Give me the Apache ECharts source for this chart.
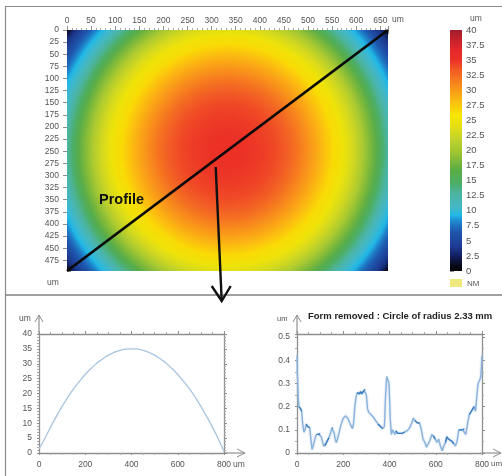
<!DOCTYPE html>
<html><head><meta charset="utf-8">
<style>html,body{margin:0;padding:0;background:#fff}#c{width:502px;height:476px;filter:blur(0.45px)}</style>
<script src="https://cdn.jsdelivr.net/npm/echarts@6/dist/echarts.min.js"></script>
</head><body><div id="c"></div>
<script>
// Height map: radial profile around the dome summit (um)
const summitX = 333, summitY = 248;
const ringRadius = [0,20,40,60,80,100,120,140,160,180,200,220,240,260,280,300,310,320,330,340,350,360,370,380,390,400,405,410,415,420,445];
const ringHeight = [35,35,34.9,34.7,34.4,34,33.3,32.3,31,29.6,28.1,26.5,25,23,20.5,17.8,16.2,14.7,13.2,11.6,10.2,9.2,7.9,6.6,5.2,3.8,3,1.8,0.6,0,0];
// Colour scale
const scaleLevels = [0,1,2.3,4,6.7,8.7,9.2,10.5,12.9,14.5,16.7,18.7,19.7,21.3,23.7,25.8,28,30.8,33.6,35,37,39,40];
const scaleColors = ['#050505','#070a1c','#101c58','#1c3a90','#1e5ab0','#1e98d8','#20b8e6','#45b8c8','#4cb4a0','#4cae68','#5aad44','#88bc38','#a0c430','#b8d030','#e0dc18','#f8e800','#fcc010','#f88c1c','#f15526','#ec3026','#e2262a','#b81f2c','#a01c30'];
// Section line on the map (um)
const sectionX = [0,666];
const sectionY = [497,0];
// Profile chart
const profileX = [0,25,50,75,100,125,150,175,200,225,250,275,300,325,350,375,400,425,450,475,500,525,550,575,600,625,650,675,700,725,750,775,800];
const profileZ = [1.5,4.8,8.7,12.3,15.7,18.8,21.6,24.1,26.4,28.4,30.2,31.6,32.9,33.8,34.5,34.9,35,34.9,34.5,33.8,32.9,31.6,30.2,28.4,26.4,24.1,21.6,18.8,15.7,12.3,8.7,4.8,0.5];
// Roughness chart
const roughX = [0,2,5,8,12,16,20,25,30,35,40,45,50,55,60,65,70,75,80,85,90,95,100,105,110,115,120,125,130,135,140,145,150,155,160,165,170,175,180,190,200,210,220,230,240,245,250,255,260,265,270,275,280,285,290,295,300,305,310,320,330,340,350,360,370,378,383,388,393,398,403,408,413,418,423,428,435,445,455,465,475,485,495,503,510,520,530,538,545,553,560,568,575,583,590,598,605,613,620,628,635,642,648,655,662,670,678,685,692,700,708,716,724,730,738,745,752,760,766,772,778,783,790,795,800];
const roughZ = [0.42,0.33,0.25,0.2,0.205,0.19,0.18,0.12,0.09,0.1,0.125,0.115,0.12,0.11,0.06,0.015,0.03,0.05,0.07,0.08,0.075,0.08,0.085,0.07,0.05,0.03,0.03,0.04,0.05,0.06,0.065,0.085,0.105,0.11,0.09,0.06,0.045,0.06,0.08,0.12,0.15,0.16,0.15,0.125,0.105,0.13,0.2,0.24,0.26,0.26,0.255,0.265,0.255,0.26,0.27,0.275,0.25,0.19,0.175,0.165,0.155,0.14,0.125,0.115,0.105,0.115,0.25,0.33,0.335,0.3,0.15,0.08,0.1,0.095,0.08,0.095,0.085,0.085,0.085,0.09,0.095,0.105,0.125,0.15,0.14,0.13,0.13,0.1,0.06,0.045,0.025,0.03,0.055,0.08,0.075,0.06,0.045,0.06,0.03,0.01,0.03,0.045,0.07,0.06,0.055,0.05,0.04,0.03,0.05,0.1,0.105,0.1,0.105,0.08,0.13,0.165,0.17,0.19,0.2,0.18,0.25,0.3,0.315,0.33,0.42];
// Stretches of the roughness trace that look darker (noisier) in the picture
const darkSpans = [[8,20],[40,55],[85,100],[120,140],[150,155],[205,215],[260,295],[350,370],[425,470],[510,530],[590,600],[640,680],[700,725],[745,766]];

const zip = (a, b) => a.map((v, i) => [v, b[i]]);
const darkTrace = zip(roughX, roughZ).map(p => darkSpans.some(s => p[0] >= s[0] && p[0] <= s[1]) ? p : [p[0], null]);
const GRAY = '#8f8f8f', TXT = '#555', FONT = 'Liberation Sans';
const lab = (size, extra) => Object.assign({color: TXT, fontSize: size, fontFamily: FONT}, extra || {});
const line = w => ({show: true, onZero: false, lineStyle: {color: GRAY, width: w}});
function axis(o) {
  return Object.assign({type: 'value', splitLine: {show: false}, axisLine: line(1)}, o);
}
const ticks = (len, mlen, split) => ({
  axisTick: {show: true, length: len, lineStyle: {color: GRAY, width: 1}},
  minorTick: {show: !!split, length: mlen, splitNumber: split || 5, lineStyle: {color: '#aaa', width: 1}}
});
const mapLine = {show: false};
function colorOf(z) {
  let i = 1;
  while (i < scaleLevels.length - 1 && scaleLevels[i] < z) i++;
  const a = scaleLevels[i - 1], b = scaleLevels[i];
  return echarts.color.lerp(Math.min(1, Math.max(0, (z - a) / (b - a))), [scaleColors[i - 1], scaleColors[i]]);
}

const chart = echarts.init(document.getElementById('c'), null, {renderer: 'canvas'});
chart.setOption({
  animation: false,
  backgroundColor: '#fff',
  grid: [
    {left: 67, top: 30, width: 321, height: 241},
    {left: 450, top: 30, width: 12, height: 241},
    {left: 39, top: 334, width: 185, height: 119},
    {left: 297, top: 334, width: 185, height: 119}
  ],
  xAxis: [
    axis({gridIndex: 0, position: 'top', min: 0, max: 666, interval: 50, axisLine: mapLine, axisLabel: lab(8.5, {margin: 5, showMaxLabel: false}), ...ticks(4, 2, 5)}),
    axis({gridIndex: 0, position: 'bottom', min: 0, max: 666, interval: 100, axisLine: mapLine, axisLabel: {show: false}, ...ticks(4, 2, 10)}),
    axis({gridIndex: 1, show: false, min: 0, max: 1}),
    axis({gridIndex: 2, position: 'bottom', min: 0, max: 800, interval: 200, axisLine: line(1.3), axisLabel: lab(8.5, {margin: 7}), ...ticks(2, 2, 4)}),
    axis({gridIndex: 2, position: 'top', min: 0, max: 800, interval: 200, axisLine: line(1.3), axisLabel: {show: false}, ...ticks(3, 2, 4)}),
    axis({gridIndex: 3, position: 'bottom', min: 0, max: 800, interval: 200, axisLine: line(1.3), axisLabel: lab(8.5, {margin: 7}), ...ticks(2, 2, 4)}),
    axis({gridIndex: 3, position: 'top', min: 0, max: 800, interval: 200, axisLine: line(1.3), axisLabel: {show: false}, ...ticks(3, 2, 4)})
  ],
  yAxis: [
    axis({gridIndex: 0, position: 'left', inverse: true, min: 0, max: 497, interval: 25, axisLine: mapLine, axisLabel: lab(8.5, {margin: 8, showMaxLabel: false}), ...ticks(4)}),
    axis({gridIndex: 0, position: 'right', inverse: true, min: 0, max: 497, interval: 50, axisLine: mapLine, axisLabel: {show: false}, ...ticks(4, 2, 2)}),
    axis({gridIndex: 1, position: 'right', min: 0, max: 40, interval: 2.5, axisLine: mapLine, axisLabel: lab(9.5, {margin: 4}), axisTick: {show: true, length: 4, lineStyle: {color: GRAY}}}),
    axis({gridIndex: 2, position: 'left', min: 0, max: 40, interval: 5, axisLine: line(1.3), axisLabel: lab(8.5, {margin: 7}), ...ticks(2, 2, 5)}),
    axis({gridIndex: 2, position: 'right', min: 0, max: 40, interval: 5, axisLine: line(1.3), axisLabel: {show: false}, ...ticks(3, 2, 5)}),
    axis({gridIndex: 3, position: 'left', min: 0, max: 0.513, interval: 0.1, axisLine: line(1.3), axisLabel: lab(8.5, {margin: 7, showMaxLabel: false}), ...ticks(2, 2, 2)}),
    axis({gridIndex: 3, position: 'right', min: 0, max: 0.513, interval: 0.1, axisLine: line(1.3), axisLabel: {show: false}, ...ticks(3, 2, 2)})
  ],
  series: [
    {
      type: 'custom', xAxisIndex: 0, yAxisIndex: 0, clip: true, silent: true,
      data: [[summitX, summitY, ringRadius[ringRadius.length - 1]]],
      encode: {x: 0, y: 1},
      renderItem(params, api) {
        const c = api.coord([api.value(0), api.value(1)]);
        const rMax = api.value(2);
        const rx = api.size([rMax, rMax])[0];
        const stops = ringRadius.map((r, i) => ({offset: r / rMax, color: colorOf(ringHeight[i])}));
        return {type: 'circle', shape: {cx: c[0], cy: c[1], r: rx},
          style: {fill: new echarts.graphic.RadialGradient(c[0], c[1], rx, stops, true)}};
      }
    },
    {
      type: 'custom', xAxisIndex: 2, yAxisIndex: 2, silent: true,
      data: [[0, 0, 1, 40]],
      encode: {x: 0, y: 1},
      renderItem(params, api) {
        const p0 = api.coord([api.value(0), api.value(1)]);
        const p1 = api.coord([api.value(2), api.value(3)]);
        const stops = scaleLevels.map((l, i) => ({offset: 1 - l / 40, color: scaleColors[i]})).reverse();
        return {type: 'rect', shape: {x: p0[0], y: p1[1], width: p1[0] - p0[0], height: p0[1] - p1[1]},
          style: {fill: new echarts.graphic.LinearGradient(0, 0, 0, 1, stops)}};
      }
    },
    {type: 'line', xAxisIndex: 0, yAxisIndex: 0, data: zip(sectionX, sectionY), symbol: 'none', z: 5, lineStyle: {color: '#0a0a0a', width: 2.8}},
    {type: 'line', xAxisIndex: 3, yAxisIndex: 3, data: zip(profileX, profileZ), symbol: 'none', smooth: true, lineStyle: {color: '#a9c5e0', width: 1.3}},
    {type: 'line', xAxisIndex: 5, yAxisIndex: 5, data: zip(roughX, roughZ), symbol: 'none', lineStyle: {color: '#8ab2dc', width: 1.3, shadowBlur: 2, shadowColor: '#a9c5e0'}},
    {type: 'line', xAxisIndex: 5, yAxisIndex: 5, data: darkTrace, connectNulls: false, symbol: 'none', lineStyle: {color: '#3a7cc0', width: 1.3}}
  ],
  graphic: [
    {type: 'line', silent: true, shape: {x1: 5, y1: 6.5, x2: 502, y2: 6.5}, style: {stroke: '#8a8a8a', lineWidth: 1.2}},
    {type: 'line', silent: true, shape: {x1: 5.5, y1: 6, x2: 5.5, y2: 476}, style: {stroke: '#8a8a8a', lineWidth: 1.2}},
    {type: 'line', silent: true, shape: {x1: 5, y1: 295, x2: 502, y2: 295}, style: {stroke: '#808080', lineWidth: 1.6}},
    {type: 'polyline', silent: true, z: 10, shape: {points: [[215.7, 167], [221.7, 301]]}, style: {stroke: '#111', lineWidth: 2.4, fill: 'none'}},
    {type: 'polyline', silent: true, z: 10, shape: {points: [[211.7, 286], [221.7, 301], [230.7, 286]]}, style: {stroke: '#111', lineWidth: 2.4, fill: 'none'}},
    {type: 'polyline', silent: true, shape: {points: [[35, 322], [39, 315], [43, 322]]}, style: {stroke: GRAY, lineWidth: 1, fill: 'none'}},
    {type: 'line', silent: true, shape: {x1: 39, y1: 315, x2: 39, y2: 334}, style: {stroke: GRAY, lineWidth: 1.2}},
    {type: 'polyline', silent: true, shape: {points: [[237, 449], [245, 453], [237, 457]]}, style: {stroke: GRAY, lineWidth: 1, fill: 'none'}},
    {type: 'line', silent: true, shape: {x1: 224, y1: 453, x2: 245, y2: 453}, style: {stroke: GRAY, lineWidth: 1.2}},
    {type: 'polyline', silent: true, shape: {points: [[293, 322], [297, 315], [301, 322]]}, style: {stroke: GRAY, lineWidth: 1, fill: 'none'}},
    {type: 'line', silent: true, shape: {x1: 297, y1: 315, x2: 297, y2: 334}, style: {stroke: GRAY, lineWidth: 1.2}},
    {type: 'polyline', silent: true, shape: {points: [[493, 449], [501, 453], [493, 457]]}, style: {stroke: GRAY, lineWidth: 1, fill: 'none'}},
    {type: 'line', silent: true, shape: {x1: 482, y1: 453, x2: 501, y2: 453}, style: {stroke: GRAY, lineWidth: 1.2}},
    {type: 'rect', silent: true, shape: {x: 450, y: 279, width: 12, height: 8}, style: {fill: '#efe87c'}},
    {type: 'text', silent: true, x: 467, y: 279.5, style: {text: 'NM', fill: TXT, font: '8px ' + FONT}},
    {type: 'text', silent: true, x: 470, y: 14, style: {text: 'um', fill: TXT, font: '8.5px ' + FONT}},
    {type: 'text', silent: true, x: 392, y: 15, style: {text: 'um', fill: TXT, font: '8.5px ' + FONT}},
    {type: 'text', silent: true, x: 47, y: 278, style: {text: 'um', fill: TXT, font: '8.5px ' + FONT}},
    {type: 'text', silent: true, x: 19, y: 314, style: {text: 'um', fill: TXT, font: '8.5px ' + FONT}},
    {type: 'text', silent: true, x: 233, y: 460, style: {text: 'um', fill: TXT, font: '8.5px ' + FONT}},
    {type: 'text', silent: true, x: 277, y: 315, style: {text: 'um', fill: TXT, font: '7.5px ' + FONT}},
    {type: 'text', silent: true, x: 491, y: 460, style: {text: 'um', fill: TXT, font: '8px ' + FONT}},
    {type: 'text', silent: true, x: 308, y: 311, style: {text: 'Form removed : Circle of radius 2.33 mm', fill: '#222', font: 'bold 9.5px ' + FONT}},
    {type: 'text', silent: true, x: 99, y: 192, z: 10, style: {text: 'Profile', fill: '#111', font: 'bold 14.5px ' + FONT}}
  ]
});
</script></body></html>
